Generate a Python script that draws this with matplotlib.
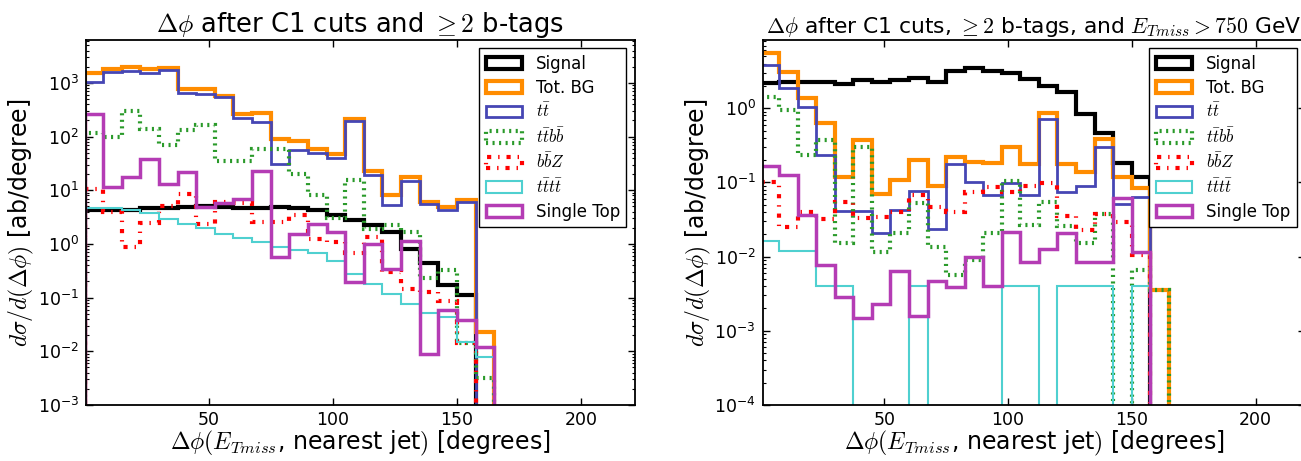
import matplotlib
matplotlib.use('Agg')
import matplotlib.pyplot as plt
import numpy as np

plt.rcParams['font.family'] = 'DejaVu Sans'
plt.rcParams['mathtext.fontset'] = 'cm'
plt.rcParams['lines.scale_dashes'] = False

# bin edges of the histograms (degrees)
edges = np.arange(0, 165.1, 7.5)

labels = ['Signal', 'Tot. BG', r'$t\bar{t}$', r'$t\bar{t}b\bar{b}$',
          r'$b\bar{b}Z$', r'$t\bar{t}t\bar{t}$', 'Single Top']

# left panel: after C1 cuts and >= 2 b-tags
signal_l = [4.3, 4.3, 4.3, 4.6, 4.7, 4.9, 5.1, 4.9, 4.7, 4.7, 4.9,
            4.6, 4.3, 3.45, 2.79, 2.25, 1.69, 0.79, 0.435, 0.172, 0.112, 0]
totbg_l = [1500, 1780, 2000, 1780, 1860, 767, 767, 568, 262, 277, 90,
           83.5, 57.7, 46.6, 209, 22.8, 8.1, 17.9, 5.96, 4.93, 6.57, 0.023]
tt_l = [1050, 1570, 1660, 1500, 1730, 637, 625, 537, 218, 189, 31,
        56, 48.6, 40, 194, 19.2, 5.3, 14.8, 5.5, 4.3, 6.0, 0]
ttbb_l = [115, 99, 299, 136, 69.5, 132, 164, 35.5, 35.5, 57.7, 57.7,
          20, 8.1, 3.08, 15.5, 1.87, 2.25, 1.69, 0.23, 0.327, 0.014, 0.0032]
bbz_l = [10.4, 3.9, 0.89, 2.5, 5.1, 8.5, 2.35, 6.1, 5.8, 2.6, 2.6,
         3.5, 1.22, 1.1, 0.69, 1.36, 0.3, 0.143, 0.126, 0.086, 0.014, 0]
tttt_l = [4.6, 4.6, 4.3, 3.8, 2.86, 2.35, 1.95, 1.51, 1.31, 1.10, 0.887,
          0.77, 0.667, 0.48, 0.275, 0.179, 0.117, 0.076, 0.052, 0.043, 0.015, 0.0079]
single_l = [262, 11.6, 17.9, 37.6, 12.9, 22.1, 4.93, 5.85, 6.76, 23.1, 0.56,
            1.51, 2.32, 1.69, 0.198, 0.995, 0.336, 1.15, 0.0089, 0.06, 0.039, 0.012]

# right panel: after C1 cuts, >= 2 b-tags and E_Tmiss > 750 GeV
signal_r = [2.16, 2.23, 2.23, 2.23, 2.1, 2.4, 2.27, 2.4, 2.58, 2.27, 3.2,
            3.45, 3.2, 3.0, 2.48, 1.99, 1.67, 0.835, 0.459, 0.185, 0.119, 0]
totbg_r = [5.5, 3.05, 1.36, 0.64, 0.119, 0.373, 0.069, 0.108, 0.2, 0.09, 0.222,
           0.19, 0.181, 0.297, 0.177, 0.853, 0.177, 0.139, 0.385, 0.12, 0.085, 0.0035]
tt_r = [3.82, 1.89, 1.05, 0.234, 0.041, 0.041, 0.0206, 0.042, 0.077, 0.0233, 0.177,
        0.1, 0.0676, 0.097, 0.0676, 0.708, 0.074, 0.09, 0.303, 0.051, 0.064, 0]
ttbb_r = [1.4, 0.946, 0.234, 0.373, 0.0154, 0.297, 0.0116, 0.0206, 0.053, 0.0136, 0.00565,
          0.009, 0.021, 0.105, 0.0267, 0.055, 0.0257, 0.0151, 0.038, 0, 0.0066, 0.0035]
bbz_r = [0.102, 0.0253, 0.0395, 0.032, 0.054, 0.033, 0.0345, 0.04, 0.068, 0.047, 0.04,
         0.075, 0.0875, 0.075, 0.09, 0.097, 0.035, 0.0228, 0.038, 0.0295, 0.0105, 0]
tttt_r = [0.016, 0.012, 0.012, 0.004, 0.004, 0, 0, 0, 0.004, 0, 0,
          0, 0, 0.004, 0.004, 0, 0.004, 0.004, 0.004, 0, 0.004, 0]
single_r = [0.166, 0.126, 0.036, 0.0077, 0.00288, 0.00147, 0.00228, 0.0063, 0.00158, 0.00469, 0.00394,
            0.0098, 0.004, 0.0217, 0.0084, 0.0125, 0.0206, 0.0084, 0.0084, 0.061, 0.0116, 0]

colors = ['black', '#ff8c00', '#4646b4', '#2a9a2a', 'red', '#4fd0d0', '#b43cb4']
widths = [3.0, 3.0, 2.0, 3.0, 3.0, 1.5, 2.5]
styles = ['solid', 'solid', 'solid', (0, (1.5, 3.2)), (0, (3, 5, 1, 5)), 'solid', 'solid']


def draw_panel(ax, series, title, title_size, ylim, xlim):
    centers = (edges[:-1] + edges[1:]) / 2
    for vals, lab, c, lw, ls in zip(series, labels, colors, widths, styles):
        ax.hist(centers, bins=edges, weights=vals, histtype='step',
                color=c, linewidth=lw, linestyle=ls, label=lab)
    ax.set_yscale('log', nonpositive='clip')
    ax.set_ylim(ylim)
    ax.set_xlim(xlim)
    ax.set_xticks([50, 100, 150, 200])
    ax.tick_params(which='both', direction='in', top=True, right=True, labelsize=12.5)
    ax.tick_params(axis='x', pad=4)
    ax.tick_params(axis='y', pad=5)
    ax.tick_params(which='major', length=5, width=1)
    ax.tick_params(which='minor', length=2.5, width=0.8)
    for sp in ax.spines.values():
        sp.set_linewidth(1.3)
    ax.set_title(title, fontsize=title_size, pad=5)
    ax.set_xlabel(r'$\Delta\phi(E_{Tmiss}$, nearest jet$)$ [degrees]', fontsize=17, labelpad=0)
    ax.set_ylabel(r'$d\sigma/d(\Delta\phi)$ [ab/degree]', fontsize=17, labelpad=1)
    leg = ax.legend(loc='upper right', fontsize=12, fancybox=False, framealpha=1,
                    edgecolor='black', borderaxespad=0.5, handlelength=2.2,
                    labelspacing=0.35)
    leg.get_frame().set_linewidth(1.0)


fig = plt.figure(figsize=(13.01, 4.61), dpi=100)
ax1 = fig.add_axes([0.0661, 0.1215, 0.4218, 0.7917])
ax2 = fig.add_axes([0.5862, 0.1215, 0.4169, 0.7917])

draw_panel(ax1, [signal_l, totbg_l, tt_l, ttbb_l, bbz_l, tttt_l, single_l],
           r'$\Delta\phi$ after C1 cuts and $\geq 2$ b-tags', 18.5,
           (1e-3, 6300), (0.6, 221.6))
draw_panel(ax2, [signal_r, totbg_r, tt_r, ttbb_r, bbz_r, tttt_r, single_r],
           r'$\Delta\phi$ after C1 cuts, $\geq 2$ b-tags, and $E_{Tmiss} > 750$ GeV', 15.7,
           (1e-4, 8.3), (0.9, 220))

fig.savefig('out.png', dpi=100)
